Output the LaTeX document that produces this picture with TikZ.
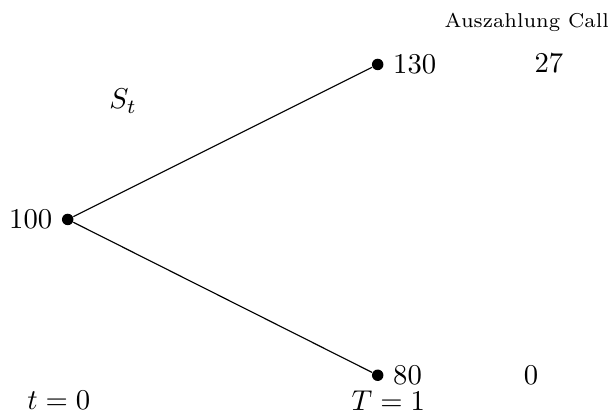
\documentclass[tikz,border=0pt]{standalone}
\usepackage{amsmath}
\usepackage{tikz}
\usetikzlibrary{positioning}

\begin{document}
\begin{tikzpicture}[
  dot/.style={circle, fill=black, inner sep=0pt, minimum size=4pt},
  val/.style={inner sep=0pt},
  branch/.style={thin}
]
\useasboundingbox (0,0) rectangle (7.49,-5.07);

% Kurs-Knoten
\node[dot] (s0) at (0.83, -2.69) {};
\node[dot] (up) at (4.63, -0.79) {};
\node[dot] (down) at (4.63, -4.60) {};

% Kurse
\node[val, left=3pt of s0] (v0) {$100$};
\node[val, right=3pt of up] (vup) {$130$};
\node[val, right=3pt of down] (vdown) {$80$};
\node (st) at (1.51, -1.24) {$S_t$};

% Auszahlung
\node[val, font=\scriptsize, anchor=east] (head) at (7.47, -0.27) {Auszahlung Call};
\node (cup) at (6.73, -0.77) {$27$};
\node (cdown) at (6.51, -4.60) {$0$};

% Zeitpunkte
\node[val] (t0) at (0.72, -4.91) {$t=0$};
\node[val] (t1) at (4.76, -4.91) {$T=1$};

% Zweige
\draw[branch] (s0) -- (up);
\draw[branch] (s0) -- (down);

\end{tikzpicture}
\end{document}
